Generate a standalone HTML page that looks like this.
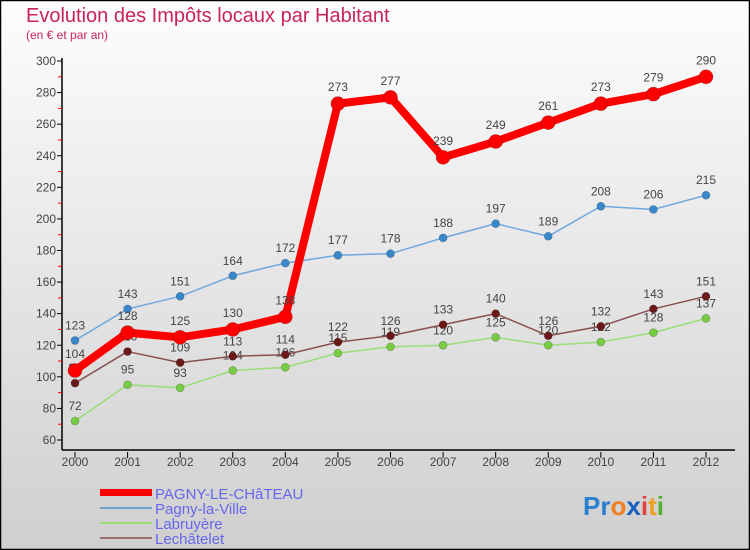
<!DOCTYPE html>
<html><head><meta charset="utf-8"><style>
body{margin:0;width:750px;height:550px;overflow:hidden;font-family:"Liberation Sans",sans-serif}
svg{display:block}
</style></head><body>
<svg id="chart" width="750" height="550">
<defs><linearGradient id="bg" x1="0" y1="0" x2="0" y2="1"><stop offset="0" stop-color="#fdfdfd"/><stop offset="1" stop-color="#cfcfcf"/></linearGradient></defs>
<rect x="0.5" y="0.5" width="749" height="549" fill="url(#bg)" stroke="#000" stroke-width="1.5"/>
<text x="26" y="22" font-size="20" fill="#c8245a">Evolution des Impôts locaux par Habitant</text>
<text x="26" y="39" font-size="12" fill="#c8245a">(en € et par an)</text>
<g id="axes"></g><g id="series"></g>
<g>
<rect x="100" y="489" width="52" height="7" fill="#f00"/>
<text x="155" y="499" font-size="15" fill="#6666ee">PAGNY-LE-CHâTEAU</text>
<rect x="100" y="507" width="52" height="2" fill="#70a0cc"/>
<text x="155" y="514" font-size="15" fill="#6666ee">Pagny-la-Ville</text>
<rect x="100" y="522" width="52" height="2" fill="#99dd77"/>
<text x="155" y="529" font-size="15" fill="#6666ee">Labruyère</text>
<rect x="100" y="537" width="52" height="2" fill="#997070"/>
<text x="155" y="544" font-size="15" fill="#6666ee">Lechâtelet</text>
</g>
<g font-size="26" font-weight="bold">
<text x="583" y="515"><tspan fill="#2a7fd0">Pr</tspan><tspan fill="#f08020">o</tspan><tspan fill="#1a60c0">x</tspan><tspan fill="#e04040">i</tspan><tspan fill="#f0a020">t</tspan><tspan fill="#50b030">i</tspan></text>
</g>
</svg>
<script>
const years=["2000","2001","2002","2003","2004","2005","2006","2007","2008","2009","2010","2011","2012"];
const pagnyChateau=[104,128,125,130,138,273,277,239,249,261,273,279,290];
const pagnyVille=[123,143,151,164,172,177,178,188,197,189,208,206,215];
const labruyere=[72,95,93,104,106,115,119,120,125,120,122,128,137];
const lechatelet=[96,116,109,113,114,122,126,133,140,126,132,143,151];
const yTicks=[60,80,100,120,140,160,180,200,220,240,260,280,300];
const NS="http://www.w3.org/2000/svg";
const xS=i=>75+i*(706-75)/(years.length-1);
const yS=v=>440-(v-60)*(440-61)/240;
function mk(tag,attrs,parent){const e=document.createElementNS(NS,tag);for(const k in attrs)e.setAttribute(k,attrs[k]);parent.appendChild(e);return e;}
const ax=document.getElementById('axes');
let l=mk('line',{x1:62,y1:58,x2:62,y2:450,stroke:'#000','stroke-width':1.5},ax);


l=mk('line',{x1:62,y1:450,x2:735,y2:450,stroke:'#000','stroke-width':1.5},ax);


yTicks.forEach((v,i)=>{
 const y=yS(v);
 mk('line',{x1:57,y1:y,x2:62,y2:y,stroke:'#000'},ax);
 if(i<yTicks.length-1)mk('line',{x1:58,y1:y-(yS(60)-yS(70)),x2:62,y2:y-(yS(60)-yS(70)),stroke:'#f00'},ax);
 const t=mk('text',{x:56,y:y+4,'font-size':12,fill:'#444','text-anchor':'end'},ax);
 t.textContent=v;
 
 
});
years.forEach((yr,i)=>{
 const x=xS(i);
 mk('line',{x1:x,y1:452,x2:x,y2:458,stroke:'#000'},ax);
 const t=mk('text',{x:x,y:466,'font-size':12,fill:'#444','text-anchor':'middle'},ax);
 t.textContent=yr;
 
 
});
const sg=document.getElementById('series');
function draw(vals,name,col,dot,w,r){
 const g=mk('g',{},sg);
 
 
 const p=mk('polyline',{points:vals.map((v,i)=>xS(i)+','+yS(v)).join(' '),fill:'none',stroke:col,'stroke-width':w,'stroke-linejoin':'round'},g);
 
 
 vals.forEach((v,i)=>{
  const c=mk('circle',{cx:xS(i),cy:yS(v),r:r,fill:dot,stroke:'rgba(0,0,0,0.25)','stroke-width':0.7},g);
  
  
  const t=mk('text',{x:xS(i),y:yS(v)-9-r/2,'font-size':12,fill:'#444','text-anchor':'middle'},g);
  t.textContent=v;
  
  
 });
}
draw(labruyere,'labruyere','#99dd77','#77cc44',1.5,4);
draw(lechatelet,'lechatelet','#8a5050','#6a1818',1.5,4);
draw(pagnyVille,'pagny-la-ville','#70a8dd','#3a88cc',1.5,4);
draw(pagnyChateau,'pagny-le-chateau','#f00','#f00',8,7);
</script>
</body></html>
